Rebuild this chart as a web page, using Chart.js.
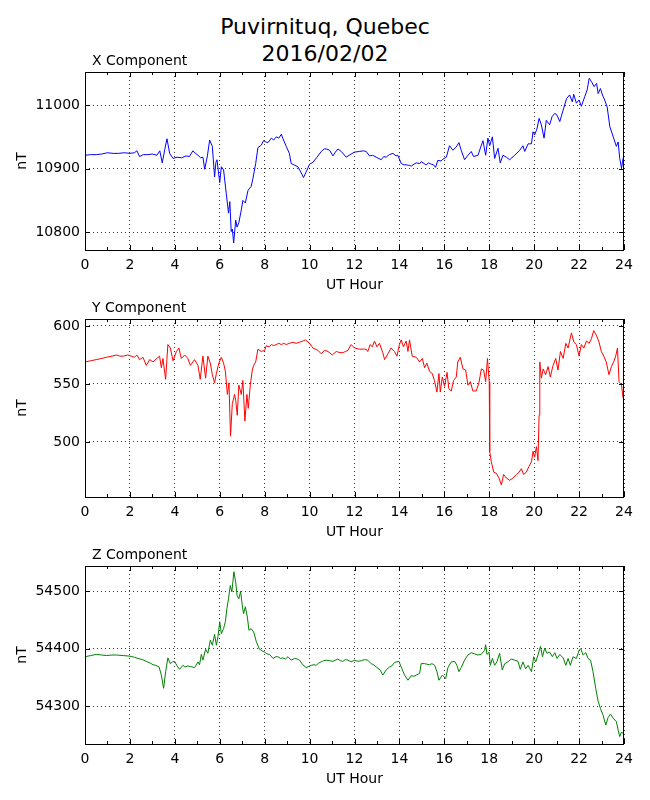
<!DOCTYPE html>
<html>
<head>
<meta charset="utf-8">
<script src="https://cdn.jsdelivr.net/npm/chart.js@4.4.1/dist/chart.umd.min.js"></script>
<style>
  body { margin: 0; background: #fff; }
  #page { position: relative; width: 650px; height: 800px; background: #fff; font-family: "DejaVu Sans", sans-serif; color: #000; }
  #page canvas { position: absolute; left: 0; }
  .suptitle { position: absolute; left: 0; width: 650px; top: 13px; text-align: center; font-size: 22px; line-height: 27px; }
  .panelTitle { position: absolute; left: 92px; font-size: 14px; line-height: 16px; z-index: 2; }
</style>
</head>
<body>
<div id="page">
  <div class="suptitle">Puvirnituq, Quebec<br>2016/02/02</div>
  <div class="panelTitle" style="top:52px">X Component</div>
  <div class="panelTitle" style="top:299px">Y Component</div>
  <div class="panelTitle" style="top:546px">Z Component</div>
  <canvas id="xChart" width="650" height="242" style="top:58px"></canvas>
  <canvas id="yChart" width="650" height="242" style="top:305px"></canvas>
  <canvas id="zChart" width="650" height="242" style="top:552px"></canvas>
</div>
<script>
// tick labels
var hourTicks = [0, 2, 4, 6, 8, 10, 12, 14, 16, 18, 20, 22, 24];
var minorHours = [1, 3, 5, 7, 9, 11, 13, 15, 17, 19, 21, 23];
var xCompTicks = [10800, 10900, 11000];
var yCompTicks = [500, 550, 600];
var zCompTicks = [54300, 54400, 54500];

// X component (nT)
var xHours = [0.00, 0.25, 0.50, 0.75, 1.00, 1.25, 1.50, 1.75, 2.00, 2.20, 2.31, 2.43, 2.60, 2.80, 3.00, 3.20, 3.33, 3.44, 3.55, 3.65,
  3.77, 3.92, 4.10, 4.30, 4.50, 4.65, 4.80, 4.92, 5.03, 5.15, 5.25, 5.33, 5.45, 5.55, 5.67, 5.77, 5.83, 5.88, 5.94, 6.00,
  6.07, 6.17, 6.29, 6.39, 6.45, 6.51, 6.56, 6.62, 6.71, 6.77, 6.85, 6.96, 7.03, 7.14, 7.26, 7.40, 7.48, 7.60, 7.70, 7.85,
  7.95, 8.05, 8.15, 8.30, 8.40, 8.52, 8.63, 8.74, 8.84, 8.96, 9.10, 9.18, 9.30, 9.48, 9.63, 9.73, 9.85, 10.00, 10.15, 10.33,
  10.52, 10.65, 10.74, 10.89, 11.04, 11.15, 11.26, 11.41, 11.63, 11.85, 12.00, 12.22, 12.40, 12.52, 12.67, 12.80, 12.97, 13.19, 13.30, 13.41,
  13.55, 13.71, 13.85, 13.93, 14.08, 14.20, 14.30, 14.45, 14.53, 14.65, 14.75, 14.90, 14.97, 15.10, 15.19, 15.30, 15.42, 15.52, 15.61, 15.71,
  15.85, 15.94, 16.09, 16.23, 16.38, 16.53, 16.65, 16.75, 16.90, 17.05, 17.20, 17.30, 17.50, 17.65, 17.72, 17.84, 17.94, 18.02, 18.14, 18.24,
  18.39, 18.49, 18.61, 18.76, 18.91, 19.13, 19.36, 19.50, 19.58, 19.73, 19.88, 19.95, 20.02, 20.12, 20.22, 20.32, 20.44, 20.54, 20.69, 20.80,
  20.92, 21.02, 21.14, 21.29, 21.44, 21.58, 21.70, 21.76, 21.88, 22.00, 22.10, 22.25, 22.36, 22.45, 22.55, 22.67, 22.78, 22.85, 22.95, 23.04,
  23.14, 23.25, 23.37, 23.52, 23.66, 23.74, 23.81, 23.89, 23.96, 24.00];
var xValues = [10921, 10922, 10922, 10923, 10925, 10924, 10924, 10925, 10924, 10925, 10928, 10919, 10922, 10922, 10923, 10921, 10928, 10909, 10930, 10947,
  10924, 10916, 10918, 10917, 10920, 10919, 10928, 10924, 10921, 10917, 10918, 10899, 10920, 10945, 10935, 10887, 10910, 10914, 10895, 10878,
  10903, 10898, 10861, 10830, 10848, 10801, 10805, 10783, 10819, 10808, 10815, 10835, 10850, 10846, 10866, 10872, 10885, 10908, 10933, 10937,
  10944, 10942, 10941, 10948, 10945, 10950, 10948, 10954, 10945, 10935, 10924, 10908, 10906, 10903, 10893, 10886, 10895, 10907, 10910, 10918,
  10927, 10931, 10931, 10929, 10920, 10926, 10931, 10927, 10918, 10923, 10926, 10927, 10928, 10927, 10920, 10921, 10918, 10914, 10919, 10918,
  10922, 10924, 10920, 10921, 10908, 10906, 10906, 10905, 10904, 10907, 10909, 10908, 10911, 10908, 10906, 10909, 10907, 10906, 10902, 10913,
  10912, 10915, 10918, 10936, 10929, 10934, 10941, 10929, 10914, 10921, 10927, 10919, 10921, 10937, 10944, 10921, 10948, 10936, 10950, 10916,
  10932, 10909, 10921, 10918, 10914, 10921, 10929, 10936, 10927, 10939, 10939, 10958, 10953, 10962, 10979, 10969, 10948, 10976, 10969, 10982,
  10987, 10984, 10974, 10992, 11010, 11016, 11005, 11017, 11003, 11008, 10998, 11013, 11024, 11042, 11037, 11029, 11034, 11018, 11026, 11016,
  11008, 10997, 10966, 10950, 10935, 10942, 10916, 10901, 10916, 10913];

// Y component (nT)
var yHours = [0.00, 0.25, 0.50, 0.75, 0.95, 1.20, 1.40, 1.55, 1.70, 1.90, 2.06, 2.20, 2.31, 2.43, 2.58, 2.73, 2.88, 3.03, 3.20, 3.32,
  3.40, 3.47, 3.59, 3.69, 3.80, 3.92, 4.07, 4.18, 4.29, 4.44, 4.58, 4.69, 4.88, 5.03, 5.13, 5.25, 5.37, 5.47, 5.58, 5.67,
  5.77, 5.85, 5.96, 6.07, 6.17, 6.25, 6.34, 6.41, 6.48, 6.56, 6.66, 6.71, 6.78, 6.85, 6.96, 7.03, 7.12, 7.21, 7.27, 7.36,
  7.45, 7.51, 7.60, 7.70, 7.85, 8.00, 8.07, 8.20, 8.30, 8.40, 8.52, 8.63, 8.74, 8.85, 8.96, 9.10, 9.26, 9.40, 9.55, 9.70,
  9.82, 10.00, 10.15, 10.37, 10.52, 10.67, 10.82, 11.01, 11.19, 11.35, 11.48, 11.60, 11.71, 11.85, 12.00, 12.22, 12.40, 12.52, 12.59, 12.70,
  12.79, 12.89, 13.00, 13.11, 13.26, 13.34, 13.49, 13.63, 13.78, 13.89, 14.00, 14.08, 14.18, 14.30, 14.38, 14.45, 14.57, 14.75, 14.90, 15.02,
  15.12, 15.22, 15.34, 15.46, 15.56, 15.67, 15.76, 15.82, 15.91, 16.01, 16.12, 16.20, 16.31, 16.41, 16.53, 16.60, 16.71, 16.83, 16.95, 17.05,
  17.16, 17.27, 17.42, 17.54, 17.65, 17.75, 17.84, 17.92, 18.00, 18.02, 18.09, 18.20, 18.32, 18.43, 18.54, 18.64, 18.76, 18.91, 19.06, 19.21,
  19.33, 19.43, 19.53, 19.65, 19.77, 19.88, 19.95, 20.02, 20.10, 20.17, 20.22, 20.25, 20.32, 20.40, 20.51, 20.62, 20.72, 20.84, 20.96, 21.06,
  21.17, 21.29, 21.41, 21.51, 21.66, 21.77, 21.88, 22.00, 22.10, 22.21, 22.33, 22.45, 22.55, 22.65, 22.77, 22.89, 22.99, 23.10, 23.21, 23.33,
  23.44, 23.54, 23.63, 23.71, 23.78, 23.89, 23.96, 24.00];
var yValues = [569, 570, 571, 572, 573, 574, 575, 574, 574, 575, 574, 573, 575, 571, 573, 566, 571, 569, 572, 574,
  564, 572, 554, 584, 581, 570, 578, 581, 572, 575, 572, 566, 571, 566, 554, 574, 555, 574, 568, 558,
  551, 559, 568, 573, 568, 561, 541, 551, 505, 533, 541, 536, 523, 549, 541, 553, 518, 541, 529, 549,
  562, 566, 569, 580, 578, 579, 583, 582, 584, 583, 584, 585, 584, 585, 584, 585, 586, 585, 586, 587,
  588, 585, 581, 579, 576, 579, 578, 575, 578, 577, 577, 578, 579, 584, 581, 580, 580, 580, 578, 584,
  582, 587, 582, 585, 577, 571, 576, 581, 578, 574, 584, 588, 582, 587, 578, 588, 574, 573, 569, 572,
  564, 568, 561, 559, 553, 543, 559, 543, 556, 548, 560, 546, 544, 553, 556, 569, 573, 563, 562, 549,
  552, 544, 544, 551, 563, 562, 552, 572, 552, 492, 483, 474, 473, 469, 463, 472, 469, 467, 469, 472,
  474, 477, 472, 474, 479, 483, 492, 487, 496, 484, 523, 569, 555, 563, 558, 565, 556, 566, 572, 562,
  578, 572, 585, 581, 594, 586, 584, 574, 584, 581, 587, 585, 589, 596, 592, 586, 578, 574, 569, 558,
  565, 569, 574, 581, 552, 549, 538, 540];

// Z component (nT)
var zHours = [0.00, 0.25, 0.50, 0.75, 0.95, 1.20, 1.40, 1.70, 2.00, 2.20, 2.36, 2.55, 2.73, 2.90, 3.03, 3.15, 3.30, 3.40, 3.50, 3.59,
  3.69, 3.80, 3.90, 3.99, 4.10, 4.21, 4.36, 4.45, 4.58, 4.70, 4.88, 5.03, 5.10, 5.18, 5.25, 5.37, 5.47, 5.58, 5.67, 5.77,
  5.85, 5.92, 6.00, 6.07, 6.17, 6.25, 6.32, 6.39, 6.47, 6.54, 6.63, 6.71, 6.77, 6.85, 6.93, 7.00, 7.06, 7.14, 7.23, 7.30,
  7.40, 7.51, 7.63, 7.77, 7.90, 8.00, 8.10, 8.22, 8.37, 8.50, 8.59, 8.70, 8.81, 8.92, 9.04, 9.18, 9.33, 9.45, 9.55, 9.70,
  9.85, 10.07, 10.20, 10.30, 10.40, 10.52, 10.62, 10.74, 10.90, 11.04, 11.15, 11.26, 11.38, 11.48, 11.60, 11.71, 11.85, 12.00, 12.15, 12.30,
  12.45, 12.59, 12.74, 12.85, 12.97, 13.14, 13.26, 13.41, 13.56, 13.66, 13.78, 13.98, 14.08, 14.23, 14.38, 14.53, 14.65, 14.75, 14.90, 14.97,
  15.12, 15.22, 15.34, 15.45, 15.57, 15.67, 15.76, 15.91, 16.06, 16.16, 16.31, 16.46, 16.56, 16.65, 16.75, 16.90, 17.05, 17.20, 17.34, 17.49,
  17.64, 17.79, 17.84, 17.90, 17.99, 18.05, 18.14, 18.24, 18.34, 18.46, 18.58, 18.69, 18.83, 18.98, 19.13, 19.28, 19.38, 19.50, 19.62, 19.73,
  19.88, 19.98, 20.07, 20.17, 20.28, 20.37, 20.47, 20.57, 20.69, 20.81, 20.92, 21.02, 21.14, 21.29, 21.41, 21.51, 21.61, 21.73, 21.88, 22.00,
  22.07, 22.18, 22.30, 22.40, 22.51, 22.62, 22.74, 22.85, 22.95, 23.07, 23.19, 23.29, 23.40, 23.52, 23.66, 23.74, 23.81, 23.89, 23.96, 24.00];
var zValues = [54386, 54388, 54390, 54389, 54388, 54389, 54389, 54388, 54387, 54385, 54383, 54381, 54378, 54375, 54372, 54371, 54368, 54354, 54331, 54360,
  54384, 54374, 54377, 54378, 54370, 54364, 54371, 54368, 54370, 54369, 54367, 54377, 54372, 54390, 54380, 54399, 54392, 54415, 54406, 54425,
  54406, 54421, 54447, 54426, 54435, 54447, 54470, 54487, 54510, 54499, 54534, 54516, 54493, 54487, 54500, 54476, 54461, 54473, 54455, 54432,
  54435, 54429, 54412, 54399, 54396, 54394, 54391, 54390, 54383, 54386, 54386, 54383, 54384, 54382, 54386, 54380, 54383, 54382, 54380, 54372,
  54367, 54371, 54372, 54371, 54375, 54377, 54379, 54380, 54379, 54378, 54380, 54382, 54379, 54378, 54381, 54380, 54377, 54380, 54378, 54379,
  54381, 54380, 54374, 54372, 54368, 54363, 54354, 54363, 54368, 54370, 54376, 54378, 54368, 54354, 54345, 54353, 54352, 54354, 54357, 54374,
  54374, 54373, 54372, 54374, 54371, 54360, 54345, 54354, 54348, 54367, 54377, 54378, 54371, 54360, 54367, 54380, 54389, 54393, 54391, 54389,
  54390, 54397, 54407, 54390, 54394, 54371, 54383, 54371, 54377, 54392, 54363, 54374, 54377, 54382, 54380, 54378, 54364, 54377, 54365, 54371,
  54360, 54386, 54377, 54389, 54404, 54386, 54401, 54392, 54394, 54386, 54393, 54383, 54390, 54384, 54371, 54383, 54371, 54386, 54383, 54397,
  54400, 54389, 54393, 54383, 54380, 54360, 54331, 54308, 54296, 54284, 54267, 54280, 54286, 54279, 54273, 54258, 54247, 54255, 54252, 54248];

var FONT = "DejaVu Sans";

// box round the plot area plus inward tick marks, matplotlib style
var frameTicks = {
  id: 'frameTicks',
  afterDraw: function(chart) {
    var ctx = chart.ctx;
    var a = chart.chartArea;
    var xs = chart.scales.x, ys = chart.scales.y;
    ctx.save();
    ctx.strokeStyle = '#000';
    ctx.lineWidth = 1;
    ctx.beginPath();
    hourTicks.forEach(function(h) {
      var px = Math.round(xs.getPixelForValue(h)) + 0.5;
      ctx.moveTo(px, a.bottom); ctx.lineTo(px, a.bottom - 5);
      ctx.moveTo(px, a.top); ctx.lineTo(px, a.top + 5);
    });
    minorHours.forEach(function(h) {
      var px = Math.round(xs.getPixelForValue(h)) + 0.5;
      ctx.moveTo(px, a.bottom); ctx.lineTo(px, a.bottom - 3);
      ctx.moveTo(px, a.top); ctx.lineTo(px, a.top + 3);
    });
    ys.ticks.forEach(function(t) {
      var py = Math.round(ys.getPixelForValue(t.value)) + 0.5;
      ctx.moveTo(a.left, py); ctx.lineTo(a.left + 5, py);
      ctx.moveTo(a.right, py); ctx.lineTo(a.right - 5, py);
    });
    ctx.stroke();
    ctx.strokeRect(a.left + 0.5, a.top + 0.5, a.right - a.left - 1, a.bottom - a.top);
    ctx.restore();
  }
};

function makePanel(id, hours, values, color, yMin, yMax, yTicks) {
  var pts = [];
  for (var i = 0; i < hours.length; i++) {
    pts.push({ x: hours[i], y: values[i] });
  }
  var ctx = document.getElementById(id).getContext('2d');
  return new Chart(ctx, {
    type: 'line',
    data: {
      datasets: [{
        data: pts,
        borderColor: color,
        borderWidth: 1,
        pointRadius: 0,
        tension: 0,
        fill: false
      }]
    },
    options: {
      responsive: false,
      animation: false,
      // top padding has to cover the half-height of the y labels plus their padding
      layout: { padding: { top: 14, right: 26, bottom: 0, left: 0 } },
      plugins: { legend: { display: false }, tooltip: { enabled: false } },
      scales: {
        x: {
          type: 'linear',
          min: 0,
          max: 24,
          afterBuildTicks: function(scale) {
            scale.ticks = hourTicks.map(function(v) { return { value: v }; });
          },
          afterFit: function(scale) { scale.height = 50; },
          ticks: { padding: 7, color: '#000', font: { family: FONT, size: 14 }, maxRotation: 0,
            callback: function(v) { return String(v); } },
          grid: { color: '#000', lineWidth: 0.8, drawTicks: false },
          border: { display: false, dash: [1, 3] },
          title: { display: true, text: 'UT Hour', color: '#000', font: { family: FONT, size: 14 },
            padding: { top: 0, bottom: 6.6 } }
        },
        y: {
          type: 'linear',
          min: yMin,
          max: yMax,
          afterBuildTicks: function(scale) {
            scale.ticks = yTicks.map(function(v) { return { value: v }; });
          },
          afterFit: function(scale) { scale.width = 85; },
          ticks: { padding: 5, color: '#000', font: { family: FONT, size: 14 },
            callback: function(v) { return String(v); } },
          grid: { color: '#000', lineWidth: 0.8, drawTicks: false },
          border: { display: false, dash: [1, 3] },
          title: { display: true, text: 'nT', color: '#000', font: { family: FONT, size: 14 },
            padding: { top: 13.6, bottom: 0 } }
        }
      }
    },
    plugins: [frameTicks]
  });
}

makePanel('xChart', xHours, xValues, '#0000ff', 10772, 11052, xCompTicks);
makePanel('yChart', yHours, yValues, '#ff0000', 452.6, 606, yCompTicks);
makePanel('zChart', zHours, zValues, '#008000', 54234, 54544, zCompTicks);
</script>
</body>
</html>
